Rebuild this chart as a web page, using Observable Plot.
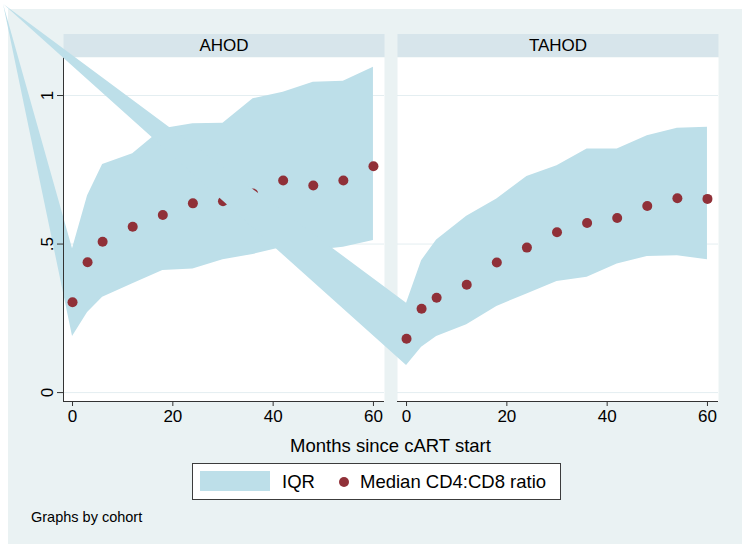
<!DOCTYPE html>
<html>
<head>
<meta charset="utf-8">
<script src="https://cdn.jsdelivr.net/npm/d3@7"></script>
<script src="https://cdn.jsdelivr.net/npm/@observablehq/plot@0.6"></script>
<style>
  body { margin: 0; background: #ffffff; font-family: "Liberation Sans", Arial, sans-serif; }
  #wrap { position: relative; width: 750px; height: 546px; overflow: hidden; }
  #bg { position: absolute; left: 8px; top: 9px; width: 734px; height: 535px; background: #EAF2F3; }
  #chart { position: absolute; left: 0; top: 0; }
  #xlabel { position: absolute; left: 0; width: 781px; top: 436px; height: 20px; line-height: 20px;
            text-align: center; font-size: 18.5px; color: #000; }
  #legend { position: absolute; left: 192px; top: 463px; width: 367px; height: 35px;
            border: 1px solid #3c3c3c; background: #ffffff; }
  #legend .swatch { position: absolute; left: 7px; top: 7px; width: 70px; height: 20px; }
  #legend .lab { position: absolute; top: 7px; height: 22px; line-height: 22px; font-size: 18.5px; color: #000; white-space: nowrap; }
  #legend .dot { position: absolute; left: 146px; top: 13px; width: 10px; height: 10px; border-radius: 50%; }
  #note { position: absolute; left: 31px; top: 508px; height: 18px; line-height: 18px; font-size: 14.5px; color: #000; }
</style>
</head>
<body>
<div id="wrap">
  <div id="bg"></div>
  <div id="chart"></div>
  <div id="xlabel">Months since cART start</div>
  <div id="legend">
    <div class="swatch"></div>
    <div class="lab" style="left:89px">IQR</div>
    <div class="dot"></div>
    <div class="lab" style="left:167px">Median CD4:CD8 ratio</div>
  </div>
  <div id="note">Graphs by cohort</div>
</div>
<script>
// ---- data ----
const cohorts = ["AHOD", "TAHOD"];
const months = [0, 3, 6, 12, 18, 24, 30, 36, 42, 48, 54, 60];

const ahodMedian = [0.304, 0.439, 0.508, 0.558, 0.598, 0.637, 0.644, 0.670, 0.714, 0.697, 0.714, 0.762];
const ahodP25    = [0.189, 0.270, 0.321, 0.366, 0.411, 0.416, 0.447, 0.465, 0.489, 0.478, 0.489, 0.512];
const ahodP75    = [0.484, 0.663, 0.768, 0.804, 0.888, 0.905, 0.907, 0.989, 1.011, 1.045, 1.048, 1.095];

const tahodMedian = [0.181, 0.282, 0.319, 0.363, 0.438, 0.488, 0.540, 0.571, 0.588, 0.628, 0.654, 0.652];
const tahodP25    = [0.091, 0.153, 0.189, 0.228, 0.290, 0.332, 0.374, 0.388, 0.433, 0.458, 0.461, 0.447];
const tahodP75    = [0.301, 0.444, 0.514, 0.594, 0.652, 0.727, 0.764, 0.820, 0.820, 0.865, 0.890, 0.893];

// the exported IQR polygons of the original start from a stray vertex (rendering artefact)
const strayMonth = [-13.75, -80.3];
const strayValue = [1.306, 1.306];

const xTicks = [0, 20, 40, 60];
const yTicks = [0, 0.5, 1];
const yTickLabels = ["0", ".5", "1"];

const xDomain = [-1.8, 62.2];
const yDomain = [-0.03, 1.128];

// ---- styles ----
const areaColor = "#BDDFE9";
const dotColor = "#903038";
const gridColor = "#E4EEF1";
const axisColor = "#333333";
const stripColor = "#D7E5EB";

document.querySelector("#legend .swatch").style.background = areaColor;
document.querySelector("#legend .dot").style.background = dotColor;

const medians = [ahodMedian, tahodMedian];
const p25s = [ahodP25, tahodP25];
const p75s = [ahodP75, tahodP75];

function areaRowsFor(i) {
  return [
    {cohort: cohorts[i], month: strayMonth[i], lo: strayValue[i], hi: strayValue[i]},
    ...months.map((m, j) => ({cohort: cohorts[i], month: m, lo: p25s[i][j], hi: p75s[i][j]}))
  ];
}
function dotRowsFor(i) {
  return months.map((m, j) => ({cohort: cohorts[i], month: m, value: medians[i][j]}));
}

const plot = Plot.plot({
  width: 750,
  height: 546,
  marginLeft: 63,
  marginRight: 32,
  marginTop: 57,
  marginBottom: 145,
  style: {background: "transparent", fontFamily: "'Liberation Sans', Arial, sans-serif", fontSize: "17px", color: "#000"},
  fx: {domain: cohorts, paddingInner: 0.039, paddingOuter: 0, round: false, axis: null, label: null},
  x: {domain: xDomain, label: null},
  y: {domain: yDomain, label: null},
  marks: [
    Plot.frame({fill: "white", stroke: "none"}),
    Plot.gridY(yTicks, {stroke: gridColor, strokeOpacity: 1}),
    // AHOD panel
    Plot.areaY(areaRowsFor(0), {fx: "cohort", x: "month", y1: "lo", y2: "hi", fill: areaColor}),
    Plot.dot(dotRowsFor(0), {fx: "cohort", x: "month", y: "value", r: 5, fill: dotColor, stroke: "none"}),
    Plot.ruleX([{cohort: cohorts[0], month: xDomain[0]}], {fx: "cohort", x: "month", stroke: axisColor}),
    Plot.axisY({ticks: yTicks, tickFormat: d => yTickLabels[yTicks.indexOf(d)], tickRotate: -90,
                tickSize: 6, tickPadding: 5, fontSize: 17, stroke: axisColor, label: null}),
    Plot.ruleY([yDomain[0]], {stroke: axisColor}),
    Plot.axisX({ticks: xTicks, tickSize: 5, tickPadding: 3, fontSize: 17, stroke: axisColor, label: null}),
    // TAHOD panel
    Plot.areaY(areaRowsFor(1), {fx: "cohort", x: "month", y1: "lo", y2: "hi", fill: areaColor}),
    Plot.dot(dotRowsFor(1), {fx: "cohort", x: "month", y: "value", r: 5, fill: dotColor, stroke: "none"})
  ]
});

document.getElementById("chart").append(plot);

// strip headers above each panel, placed underneath every mark
const frameEls = [...plot.querySelectorAll('[aria-label="frame"]')];
let frameRects = frameEls.flatMap(el => el.tagName.toLowerCase() === "rect" ? [el] : [...el.querySelectorAll("rect")]);
const svgBox = plot.getBoundingClientRect();
const boxes = frameRects.map(r => r.getBoundingClientRect())
  .filter(b => b.width > 0)
  .sort((a, b) => a.left - b.left);
const firstG = plot.querySelector("g");
const strips = d3.create("svg:g").attr("aria-label", "strips");
boxes.forEach((b, i) => {
  const x0 = b.left - svgBox.left;
  strips.append("rect").attr("x", x0).attr("y", 34).attr("width", b.width).attr("height", 23).attr("fill", stripColor);
  strips.append("text").attr("x", x0 + b.width / 2).attr("y", 45.5)
    .attr("text-anchor", "middle").attr("dominant-baseline", "central")
    .attr("font-size", 17).attr("fill", "#000").text(cohorts[i]);
});
plot.insertBefore(strips.node(), firstG);
</script>
</body>
</html>
